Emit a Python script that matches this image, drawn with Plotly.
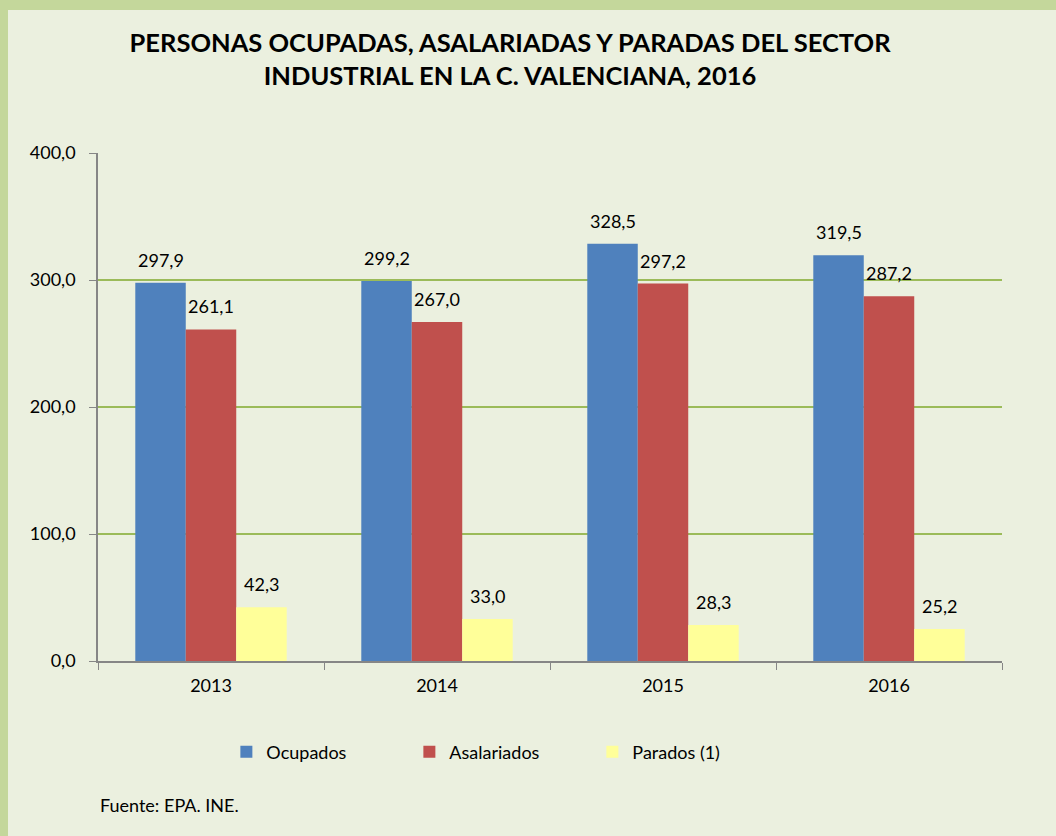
import plotly.graph_objects as go

years = ["2013", "2014", "2015", "2016"]
ocupados = [297.9, 299.2, 328.5, 319.5]
asalariados = [261.1, 267.0, 297.2, 287.2]
parados = [42.3, 33.0, 28.3, 25.2]

series = [
    ("Ocupados", ocupados, "#4F81BD"),
    ("Asalariados", asalariados, "#C0504D"),
    ("Parados (1)", parados, "#FFFF99"),
]

FONT = "Lato"
fig = go.Figure()
for name, vals, col in series:
    fig.add_trace(go.Bar(
        x=years, y=vals, name=name, marker=dict(color=col, line=dict(width=0)),
    ))

# data labels above bars (category index positions on the x axis)
bar_px = 904 / 4 * (1 - 0.33) / 3
for i, (name, vals, col) in enumerate(series):
    for j, v in enumerate(vals):
        fig.add_annotation(
            x=j, y=v, xref="x", yref="y",
            text=f"{v:.1f}".replace(".", ","),
            showarrow=False, xshift=(i - 1) * bar_px, yshift=10,
            yanchor="bottom", xanchor="center",
            font=dict(family=FONT, size=18, color="#000000"),
        )

fig.add_annotation(
    x=0, y=-0.283, xref="paper", yref="paper", xanchor="left", yanchor="middle",
    text="Fuente: EPA. INE.", showarrow=False,
    font=dict(family=FONT, size=18, color="#000000"),
)

# inner background
fig.add_shape(type="rect", xref="paper", yref="paper",
              x0=-90/904, x1=(1056-98)/904, y0=-175/508, y1=(661-10)/508,
              fillcolor="#EBF0DF", line=dict(width=0), layer="below")

fig.update_layout(
    width=1056, height=836,
    margin=dict(l=98, r=54, t=153, b=175),
    paper_bgcolor="#C4D79B",
    plot_bgcolor="#FFFFFF",
    separators=",.",
    barmode="group", bargap=0.33, bargroupgap=0,
    title=dict(
        text="<b>PERSONAS OCUPADAS, ASALARIADAS Y PARADAS DEL SECTOR<br>INDUSTRIAL EN LA C. VALENCIANA, 2016</b>",
        x=0.483, xanchor="center", y=1 - 52/836, yanchor="middle",
        font=dict(family=FONT, size=25.5, color="#000000"),
    ),
    xaxis=dict(
        type="category", tickangle=0,
        showline=True, linecolor="#868686", linewidth=1.5,
        ticks="outside", tickson="boundaries", ticklen=7, tickcolor="#868686",
        ticklabelstandoff=8,
        tickfont=dict(family=FONT, size=18, color="#000000"),
        showgrid=False,
    ),
    yaxis=dict(
        range=[0, 400], dtick=100, tickformat=".1f",
        showline=True, linecolor="#868686", linewidth=1.5,
        ticks="outside", ticklen=7, tickcolor="#868686",
        ticklabelstandoff=10,
        tickfont=dict(family=FONT, size=18, color="#000000"),
        showgrid=True, gridcolor="#9BBB59", gridwidth=1.5,
        zeroline=False,
    ),
    legend=dict(
        orientation="h", x=0.142, xanchor="left", y=-0.179, yanchor="middle",
        entrywidth=138, entrywidthmode="pixels",
        font=dict(family=FONT, size=18, color="#000000"),
        bgcolor="rgba(0,0,0,0)",
    ),
    showlegend=True,
)

fig.write_html("out.html", config={"displayModeBar": False},
               post_script="document.body.style.margin='0';")
